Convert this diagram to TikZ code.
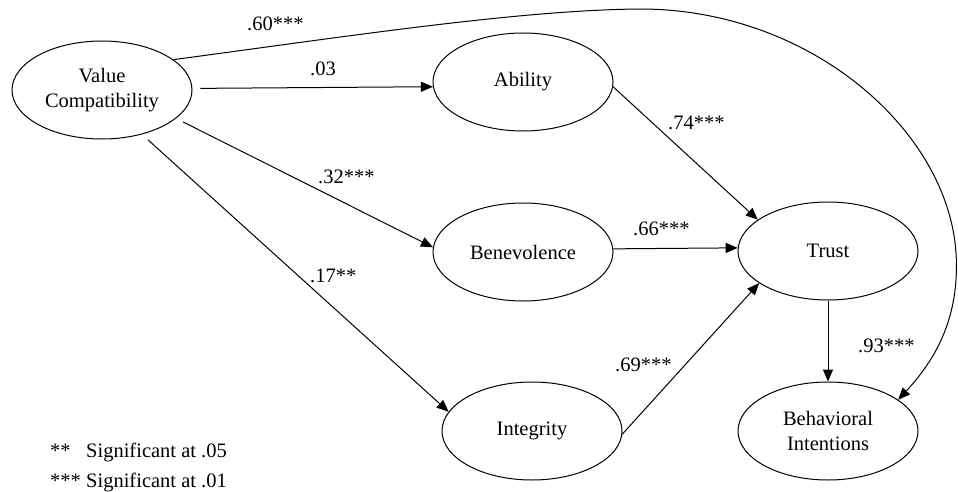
\documentclass[tikz,border=0pt]{standalone}
\usepackage{fontspec}
\setmainfont{Liberation Serif}
\usetikzlibrary{shapes.geometric,arrows.meta}
\begin{document}
\begin{tikzpicture}[x=1pt,y=-1pt,
  lat/.style={ellipse,draw,line width=1pt,minimum width=180pt,minimum height=98pt,
    inner sep=0pt,align=center,font=\fontsize{20.5}{25}\selectfont},
  arr/.style={line width=1pt,-{Triangle[length=12pt,width=10pt]}},
  lbl/.style={anchor=base west,inner sep=0pt,font=\fontsize{20.5}{25}\selectfont}]
\useasboundingbox (0,0) rectangle (958,492);
% latent variables
\node[lat] (vc) at (102,90)  {Value\\Compatibility};
\node[lat] (ab) at (523,82)  {Ability};
\node[lat] (be) at (523,252) {Benevolence};
\node[lat] (tr) at (828,251) {Trust};
\node[lat] (in) at (532,431) {Integrity};
\node[lat] (bi) at (828,431) {Behavioral\\Intentions};
% paths
\draw[arr,shorten <=8pt] (vc.1.75) -- (ab.183.5);
\draw[arr,shorten <=8pt] (vc.-21.8) -- (be.177.5);
\draw[arr,shorten <=8pt] (vc.-48.7) -- (in.167.6);
\draw[arr] (ab.-3.2) -- (tr.156.4);
\draw[arr] (be.2.5) -- (tr.178);
\draw[arr] (in.-2.5) -- (tr.205.9);
\draw[arr] (tr.south) -- (bi.north);
\coordinate (top) at (640,9);
\coordinate (rgt) at (956,253);
\draw[arr] (vc.23.6) .. controls (350,36) and (520,10) .. (top)
  .. controls (810,9) and (948,130) .. (rgt)
  .. controls (960,318) and (935,360) .. (bi.24.7);
% coefficients
\node[lbl] (l60) at (247,31)  {.60***};
\node[lbl] (l03) at (310,76)  {.03};
\node[lbl] (l32) at (318,183) {.32***};
\node[lbl] (l74) at (668,130) {.74***};
\node[lbl] (l66) at (633,235) {.66***};
\node[lbl] (l17) at (310,282) {.17**};
\node[lbl] (l69) at (615,371) {.69***};
\node[lbl] (l93) at (858,352) {.93***};
% legend
\node[lbl] (lg1) at (50,457) {\makebox[36pt][l]{**}Significant at .05};
\node[lbl] (lg2) at (50,487) {\makebox[36pt][l]{***}Significant at .01};
\end{tikzpicture}
\end{document}
